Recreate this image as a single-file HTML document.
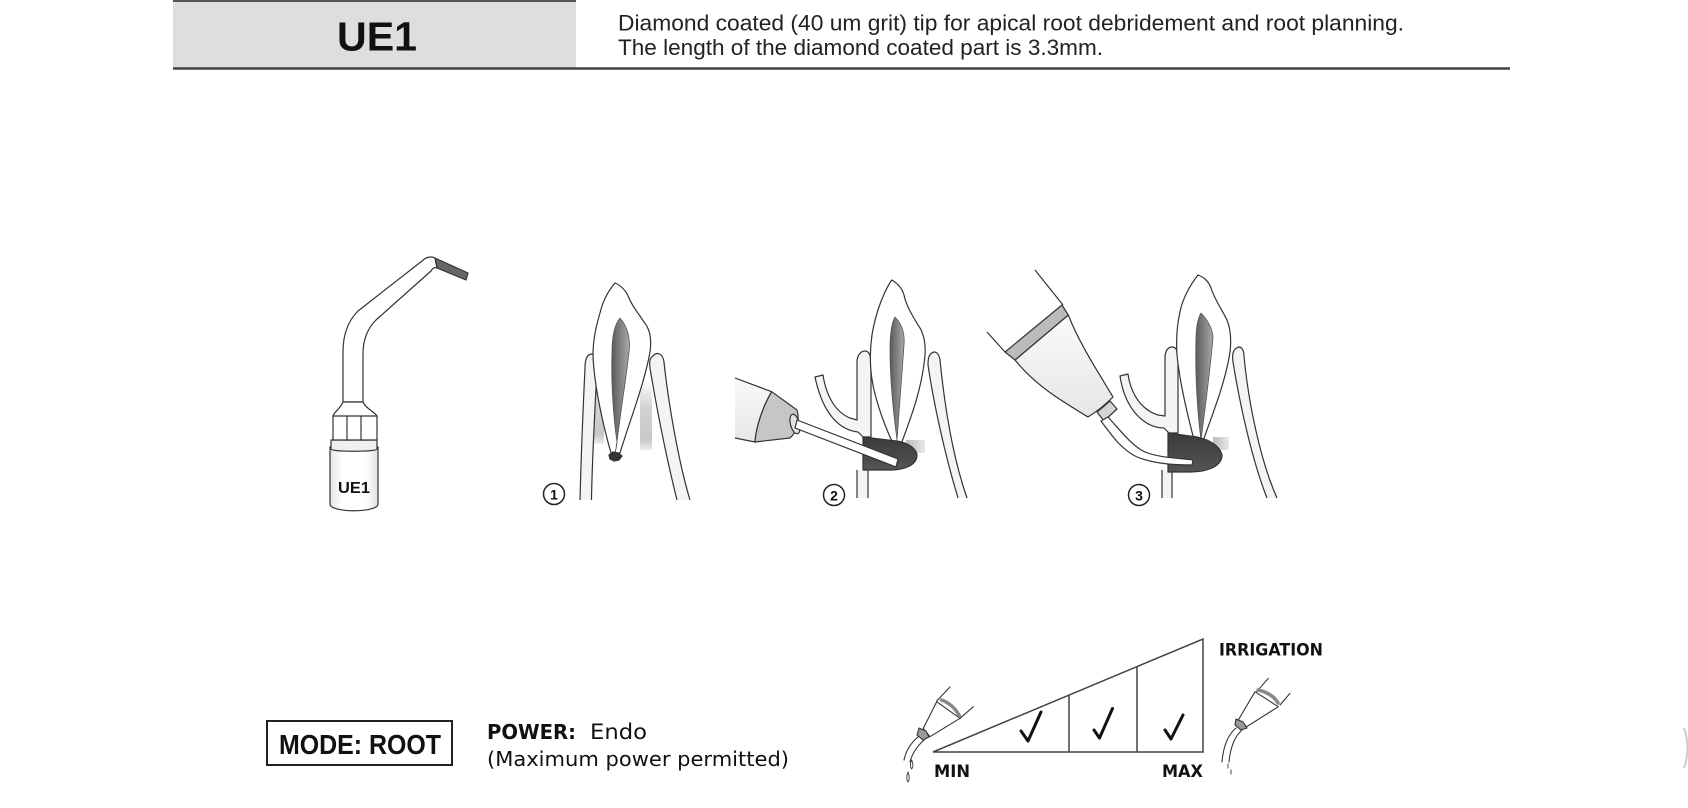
<!DOCTYPE html>
<html><head><meta charset="utf-8"><style>
html,body{margin:0;padding:0;background:#fff;}
svg{display:block;}
</style></head><body>
<svg width="1688" height="808" viewBox="0 0 1688 808" xmlns="http://www.w3.org/2000/svg">
<defs>
<linearGradient id="pulp" x1="0" y1="0" x2="1" y2="0">
<stop offset="0" stop-color="#5a5a5a"/><stop offset="1" stop-color="#aaa"/></linearGradient>
<linearGradient id="shd" x1="0" y1="0" x2="0" y2="1">
<stop offset="0" stop-color="#fff"/><stop offset="0.4" stop-color="#d2d2d2"/><stop offset="0.85" stop-color="#c8c8c8"/><stop offset="1" stop-color="#eee"/></linearGradient>
<linearGradient id="shh" x1="0" y1="0" x2="1" y2="0">
<stop offset="0" stop-color="#bbb"/><stop offset="1" stop-color="#e8e8e8"/></linearGradient>
<linearGradient id="body" x1="0" y1="0" x2="0" y2="1">
<stop offset="0" stop-color="#fafafa"/><stop offset="1" stop-color="#e6e6e6"/></linearGradient>
<linearGradient id="les" x1="0" y1="0" x2="0" y2="1">
<stop offset="0" stop-color="#3a3a3a"/><stop offset="1" stop-color="#555"/></linearGradient>
<linearGradient id="cyl" x1="0" y1="0" x2="1" y2="0">
<stop offset="0" stop-color="#e4e4e4"/><stop offset="0.25" stop-color="#fff"/><stop offset="0.75" stop-color="#fff"/><stop offset="1" stop-color="#e0e0e0"/></linearGradient>
</defs>
<rect width="1688" height="808" fill="#fff"/>

<!-- Header -->
<rect x="173" y="0" width="403" height="68" fill="#dedede"/>
<line x1="173" y1="1" x2="576" y2="1" stroke="#555" stroke-width="2"/>
<line x1="173" y1="68.5" x2="1510" y2="68.5" stroke="#444" stroke-width="2.5"/>
<text x="337" y="50.5" font-family="Liberation Sans, Arial, sans-serif" font-weight="bold" font-size="41" textLength="80" lengthAdjust="spacingAndGlyphs" fill="#111">UE1</text>
<text x="618" y="30.5" font-family="Liberation Sans, Arial, sans-serif" font-size="22.5" textLength="786" lengthAdjust="spacingAndGlyphs" fill="#222">Diamond coated (40 um grit) tip for apical root debridement and root planning.</text>
<text x="618" y="55" font-family="Liberation Sans, Arial, sans-serif" font-size="22.5" textLength="485" lengthAdjust="spacingAndGlyphs" fill="#222">The length of the diamond coated part is 3.3mm.</text>

<g stroke="#333" stroke-width="1.2" stroke-linejoin="round" stroke-linecap="round">
<!-- UE1 tip instrument -->
<path d="M343,402 L343,352 C343,334 348,321 358,311 L422,261 C426,257 431,256 435,258 L437,268 C434,267 433,268 431,271 L376,320 C367,329 363,340 363,354 L363,402 Z" fill="#fff"/>
<path d="M435,258 L468,273 L466,280 L437,268 Z" fill="#666"/>
<path d="M330,447 L330,504 C330,513 378,513 378,504 L378,447 Z" fill="url(#cyl)"/>
<path d="M331,440 L377,440 L377,449 C377,452 331,452 331,449 Z" fill="#f0f0f0"/>
<path d="M343,402 C340,409 334,412 333,416 L333,440 L377,440 L377,416 C375,412 366,409 363,402 Z" fill="#fff"/>
<line x1="333" y1="416" x2="377" y2="416"/>
<line x1="347" y1="416" x2="347" y2="440"/>
<line x1="361" y1="416" x2="361" y2="440"/>
</g>
<text x="338" y="493" font-family="Liberation Sans, Arial, sans-serif" font-weight="bold" font-size="16" textLength="32" lengthAdjust="spacingAndGlyphs" fill="#111">UE1</text>

<!-- Tooth 1 -->
<rect x="594" y="380" width="10" height="64" fill="url(#shd)"/>
<rect x="640" y="380" width="12" height="70" fill="url(#shd)"/>
<g stroke="#333" stroke-width="1.2" stroke-linejoin="round">
<path d="M580,500 C581,460 583,410 585,368 C585,358 588,354 592,354 C597,354 598,360 597,368 C595,410 592,460 591.5,500" fill="#f4f4f4"/>
<path d="M690,500 C678,460 668,400 664,362 C663,354 657,351 653,356 C650,358 649,361 650,368 C657,410 667,460 677,500" fill="#f4f4f4"/>
<path d="M615,283 C609,290 603,300 600,313 C596,326 593,340 593,355 C594,385 603,425 611,453 L620,453 C630,420 644,385 650,352 C652,338 649,328 644,322 C639,314 632,306 629,298 C626,290 620,285 615,283 Z" fill="#fff"/>
<path d="M620,318 C627,326 631,338 629,352 C626,380 620,415 617,442 C613,415 611,380 612,352 C612,336 615,324 620,318 Z" fill="url(#pulp)" stroke="#555" stroke-width="0.8"/>
<path d="M617,442 L615,455" fill="none" stroke-width="0.8"/>
<path d="M609,455 L613,452 L618,453 L622,456 L619,460 L614,461 L610,459 Z" fill="#333"/>
</g>
<circle cx="554" cy="494" r="10.5" fill="#fff" stroke="#222" stroke-width="1.5"/>
<text x="554" y="499.5" font-family="Liberation Sans, Arial, sans-serif" font-weight="bold" font-size="14" text-anchor="middle" fill="#111">1</text>

<!-- Tooth 2 -->
<rect x="906" y="440" width="19" height="13" fill="url(#shh)"/>
<g stroke="#333" stroke-width="1.2" stroke-linejoin="round">
<path d="M967,498 C952,455 944,400 940,360 C939,354 936,350 931.7,353 C929,355 928,358 928,365 C934,405 945,455 958,498" fill="#f4f4f4"/>
<path d="M815,377 L823,375 C826,395 835,412 850,418 L857,420 L857,362 C857,355 861,351 865,351 C869,351 871,356 871,362 L871,437 L863,437 L858,432 C840,430 823,415 815,377 Z" fill="#f4f4f4"/>
<rect x="857.5" y="470" width="10" height="28" fill="#f4f4f4" stroke="none"/>
<path d="M857,470 L857,498 M868,470 L868,498" fill="none"/>
<path d="M891.7,280 C885,290 876,310 872,335 C869,355 870,372 874,390 C880,415 890,438 895,447 L900,447 C910,420 922,390 925,355 C926,340 922,330 918,325 C912,315 906,305 904,295 C902,288 897,283 891.7,280 Z" fill="#fff"/>
<path d="M895,317 C901,323 905,332 904,345 C902,375 899,410 897,440 C893,410 890,375 890,350 C890,333 892,322 895,317 Z" fill="url(#pulp)" stroke="#555" stroke-width="0.8"/>
<path d="M863,437 L897,441 C908,443 916,448 917,455 C917,465 905,470 890,470 L863,470 Z" fill="url(#les)"/>
<path d="M735,378 L771.7,391.7 C762,408 756,428 755,442 L735,438" fill="url(#body)"/>
<path d="M771.7,391.7 L797,410 C800,420 797,432 790,438 L755,442 C756,428 762,408 771.7,391.7 Z" fill="#c6c6c6"/>
<ellipse cx="795" cy="424" rx="4.5" ry="10" fill="#e4e4e4" transform="rotate(-15 795 424)"/>
<path d="M797,420 L898,459 L896,467 L795,428 Z" fill="#fff"/>
</g>
<circle cx="834" cy="495" r="10.5" fill="#fff" stroke="#222" stroke-width="1.5"/>
<text x="834" y="500.5" font-family="Liberation Sans, Arial, sans-serif" font-weight="bold" font-size="14" text-anchor="middle" fill="#111">2</text>

<!-- Tooth 3 -->
<rect x="1213" y="437" width="16" height="13" fill="url(#shh)"/>
<g stroke="#333" stroke-width="1.2" stroke-linejoin="round">
<path d="M1277,498 C1260,460 1248,400 1244,356 C1244,350 1241,345 1236.7,348 C1233,350 1232,354 1233,362 C1240,405 1252,460 1267,498" fill="#f4f4f4"/>
<path d="M1120,376 L1128,374 C1131,395 1142,410 1158,415 L1165,416 L1165,358 C1165,351 1168,347 1172,347 C1176,347 1178,351 1178,358 L1178,433 L1169,433 L1164,428 C1145,428 1125,410 1120,376 Z" fill="#f4f4f4"/>
<rect x="1162.5" y="470" width="9" height="28" fill="#f4f4f4" stroke="none"/>
<path d="M1162,470 L1162,498 M1172,470 L1172,498" fill="none"/>
<path d="M1198,275 C1190,285 1182,300 1180,312 C1177,325 1176,340 1177,355 C1180,385 1190,425 1196,447 L1201,447 C1210,420 1225,385 1230,352 C1232,335 1229,325 1227,320 C1222,310 1214,298 1211,288 C1208,280 1203,277 1198,275 Z" fill="#fff"/>
<path d="M1201,313 C1208,320 1213,330 1213,338 C1210,370 1205,410 1201,440 C1197,410 1195,370 1196,340 C1196,327 1198,318 1201,313 Z" fill="url(#pulp)" stroke="#555" stroke-width="0.8"/>
<path d="M1168,433 L1197,437 C1210,440 1220,446 1222,455 C1222,466 1208,472 1190,472 L1168,472 Z" fill="url(#les)"/>
<path d="M1035,270 L1063,305 M987,332 L1005,352" fill="none"/>
<path d="M1015,360 L1068.3,315 C1080,345 1100,375 1113,397 C1106,404 1096,412 1088,417 C1060,400 1035,385 1015,360 Z" fill="url(#body)"/>
<path d="M1005,352 L1062,305 L1068.3,315 L1015,360 Z" fill="#bbb"/>
<path d="M1097,412 L1110,401 L1117,409 L1104,421 Z" fill="#d4d4d4"/>
<path d="M1108,417 C1120,430 1132,446 1145,452 C1160,458 1178,458 1193,460 L1192,465 C1175,465 1155,464 1137,457 C1122,450 1112,436 1101,421 Z" fill="#fff"/>
</g>
<circle cx="1139" cy="495" r="10.5" fill="#fff" stroke="#222" stroke-width="1.5"/>
<text x="1139" y="500.5" font-family="Liberation Sans, Arial, sans-serif" font-weight="bold" font-size="14" text-anchor="middle" fill="#111">3</text>

<!-- Bottom left -->
<rect x="267" y="721" width="185" height="44" fill="#fff" stroke="#222" stroke-width="2"/>
<text x="279" y="754" font-family="Liberation Sans, Arial, sans-serif" font-weight="bold" font-size="28" textLength="162" lengthAdjust="spacingAndGlyphs" fill="#111">MODE: ROOT</text>
<text x="487" y="739" font-family="DejaVu Sans, Liberation Sans, sans-serif" font-weight="bold" font-size="20" textLength="89" lengthAdjust="spacingAndGlyphs" fill="#111">POWER:</text>
<text x="590" y="739" font-family="DejaVu Sans, Liberation Sans, sans-serif" font-size="21" textLength="57" lengthAdjust="spacingAndGlyphs" fill="#111">Endo</text>
<text x="487" y="766" font-family="DejaVu Sans, Liberation Sans, sans-serif" font-size="20" textLength="302" lengthAdjust="spacingAndGlyphs" fill="#111">(Maximum power permitted)</text>

<!-- Irrigation chart -->
<g stroke="#444" stroke-width="1.5" fill="none">
<polygon points="933,752 1203,752 1203,639"/>
<line x1="1069" y1="695" x2="1069" y2="752"/>
<line x1="1137" y1="666.6" x2="1137" y2="752"/>
</g>
<g stroke="#111" stroke-width="3" fill="none" stroke-linecap="round" stroke-linejoin="round">
<path d="M1021,731 L1028,741 L1041,712"/>
<path d="M1094,730 L1099.5,738 L1112.5,708.5"/>
<path d="M1165,730 L1171,739 L1183,715"/>
</g>
<text x="1219" y="655.5" font-family="DejaVu Sans, Liberation Sans, sans-serif" font-weight="bold" font-size="17" textLength="104" lengthAdjust="spacingAndGlyphs" fill="#111">IRRIGATION</text>
<text x="934" y="777" font-family="DejaVu Sans, Liberation Sans, sans-serif" font-weight="bold" font-size="17" textLength="36" lengthAdjust="spacingAndGlyphs" fill="#111">MIN</text>
<text x="1162" y="777" font-family="DejaVu Sans, Liberation Sans, sans-serif" font-weight="bold" font-size="17" textLength="41" lengthAdjust="spacingAndGlyphs" fill="#111">MAX</text>

<!-- small handpieces -->
<g stroke="#333" stroke-width="1.1" fill="none" stroke-linecap="round" stroke-linejoin="round">
<path d="M950,687 L936.7,701 M973.3,706.7 L960,718.3"/>
<path d="M936.7,701.7 L960,718.3 L930,736.7 L923.3,728.3 Z" fill="#fff"/>
<path d="M941.5,700 Q953,704 959.5,716" stroke="#888" stroke-width="3.5"/>
<path d="M919,728 L926,731 L929,737 L923,740 L917,735 Z" fill="#999"/>
<path d="M918,737 Q907,746 904,760 M924,740 Q913,750 910,762"/>
<path d="M911.7,760 q-2.5,6 0,9 q2.5,-3 0,-9 Z M908,772 q-2.5,6 0,10 q2.5,-3 0,-10 Z" stroke-width="0.9"/>

<path d="M1268.3,678.3 L1256.7,691.7 M1290,693.3 L1280,705"/>
<path d="M1255,691.7 L1278.3,706.7 L1246.7,726.7 L1238.3,720 Z" fill="#fff"/>
<path d="M1258,690 Q1272,693 1278,703" stroke="#888" stroke-width="3.5"/>
<path d="M1236,719 L1243,722 L1247,728 L1241,730 L1235,725 Z" fill="#999"/>
<path d="M1236,728 Q1224,738 1222,762 M1242,730 Q1231,740 1229,762"/>
<path d="M1228,764 L1228,768 M1231,770 L1231,774" stroke-width="0.9"/>
</g>

<path d="M1684,728 Q1691,748 1684,768" fill="none" stroke="#ccc" stroke-width="2"/>
</svg>
</body></html>
